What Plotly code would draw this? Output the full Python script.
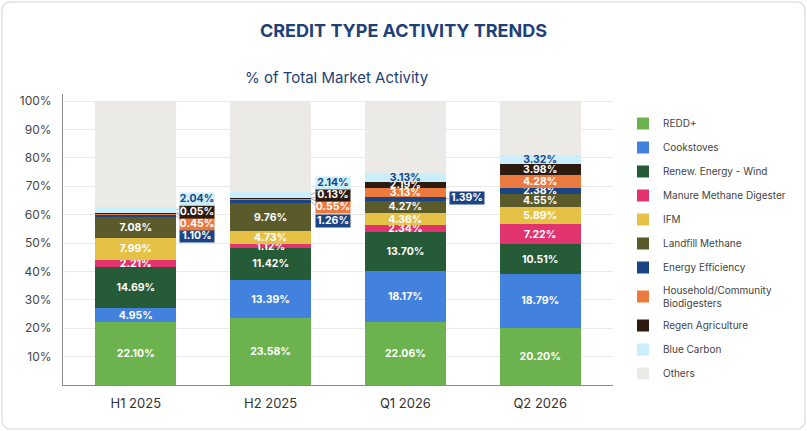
import plotly.graph_objects as go

categories = ["H1 2025", "H2 2025", "Q1 2026", "Q2 2026"]

redd = [22.10, 23.58, 22.06, 20.20]
cookstoves = [4.95, 13.39, 18.17, 18.79]
wind = [14.69, 11.42, 13.70, 10.51]
manure = [2.21, 1.12, 2.34, 7.22]
ifm = [7.99, 4.73, 4.36, 5.89]
landfill = [7.08, 9.76, 4.27, 4.55]
energy_eff = [1.10, 1.26, 1.39, 2.38]
household = [0.45, 0.55, 3.13, 4.28]
regen = [0.05, 0.13, 2.19, 3.98]
blue_carbon = [2.04, 2.14, 3.13, 3.32]
others = [37.34, 31.92, 25.26, 18.88]

y_ticks = [10, 20, 30, 40, 50, 60, 70, 80, 90, 100]
y_tick_labels = [f"{v}%" for v in y_ticks]

series = [
    ("REDD+", redd, "#6cb24f", "#ffffff"),
    ("Cookstoves", cookstoves, "#4281de", "#ffffff"),
    ("Renew. Energy - Wind", wind, "#265b37", "#ffffff"),
    ("Manure Methane Digester", manure, "#e1346f", "#ffffff"),
    ("IFM", ifm, "#e5c246", "#ffffff"),
    ("Landfill Methane", landfill, "#5b5a2b", "#ffffff"),
    ("Energy Efficiency", energy_eff, "#1b4484", "#ffffff"),
    ("Household/Community<br>Biodigesters", household, "#ec7a3e", "#ffffff"),
    ("Regen Agriculture", regen, "#2d1b10", "#ffffff"),
    ("Blue Carbon", blue_carbon, "#cbeefc", "#1b4484"),
    ("Others", others, "#ebeae6", "#ffffff"),
]

# segments labelled with an outside callout: (series index, category index) -> text box position
callouts = {
    (9, 0): (0.456, 65.5), (8, 0): (0.456, 60.9), (7, 0): (0.456, 56.7), (6, 0): (0.456, 52.5),
    (9, 1): (1.46, 71.0), (8, 1): (1.46, 66.9), (7, 1): (1.46, 62.6), (6, 1): (1.46, 57.9),
    (6, 2): (2.46, 65.8),
}

FONT = "Inter, Roboto, sans-serif"
W, H = 807, 431
L, R, T, B = 63, 613, 94, 385

def px_x(px):
    return (px - L) / (R - L)

def px_y(py):
    return (B - py) / (B - T)

fig = go.Figure()
annotations = []
cum = [0.0] * len(categories)
for si, (name, vals, color, tcolor) in enumerate(series):
    texts = []
    for ci, v in enumerate(vals):
        if name == "Others" or (si, ci) in callouts:
            texts.append("")
        else:
            texts.append(f"{v:.2f}%")
        if (si, ci) in callouts:
            ax, ay = callouts[(si, ci)]
            annotations.append(dict(
                x=ci + 0.3, y=cum[ci] + v / 2, xref="x", yref="y",
                ax=ax, ay=ay, axref="x", ayref="y",
                text=f"<b>{v:.2f}%</b>", showarrow=True, arrowhead=0,
                arrowwidth=0.8, arrowcolor="#9a9a9a", standoff=0,
                bgcolor=color, borderpad=0, width=34, height=11.5,
                font=dict(family=FONT, size=10.5, color=tcolor),
            ))
        cum[ci] += v
    fig.add_trace(go.Bar(
        name=name, x=categories, y=vals, marker=dict(color=color, line=dict(width=0)),
        text=texts, texttemplate="%{text}", textposition="inside",
        insidetextanchor="middle", textangle=0,
        textfont=dict(family=FONT, size=10.5, color=tcolor, weight="bold"),
        legendgroup=f"g{si}", hoverinfo="skip",
    ))

annotations.append(dict(
    x=px_x(337), y=px_y(77), xref="paper", yref="paper", showarrow=False,
    text="% of Total Market Activity", xanchor="center", yanchor="middle",
    font=dict(family=FONT, size=15, color="#1e4178"),
))

# rounded card border
x0, y0, x1, y1, r = 2, 2, 805, 429, 9
def P(px, py):
    return f"{px_x(px):.5f},{px_y(py):.5f}"
path = (f"M {P(x0 + r, y0)} L {P(x1 - r, y0)} Q {P(x1, y0)} {P(x1, y0 + r)} "
        f"L {P(x1, y1 - r)} Q {P(x1, y1)} {P(x1 - r, y1)} L {P(x0 + r, y1)} "
        f"Q {P(x0, y1)} {P(x0, y1 - r)} L {P(x0, y0 + r)} Q {P(x0, y0)} {P(x0 + r, y0)} Z")

fig.update_layout(
    width=W, height=H,
    margin=dict(l=L, r=W - R, t=T, b=H - B, pad=0, autoexpand=False),
    paper_bgcolor="white", plot_bgcolor="white",
    barmode="stack", bargap=0.4,
    showlegend=True,
    title=dict(text="<b>CREDIT TYPE ACTIVITY TRENDS</b>", x=0.5, xref="container",
               y=1 - 31 / H, yref="container", xanchor="center", yanchor="middle",
               font=dict(family=FONT, size=18, color="#1e4178")),
    font=dict(family=FONT, color="#444444"),
    uniformtext=dict(minsize=10.5, mode="show"),
    legend=dict(x=px_x(623), y=px_y(109), xanchor="left", yanchor="top",
                traceorder="grouped", tracegroupgap=5,
                font=dict(family=FONT, size=10, color="#444444"),
                bgcolor="rgba(0,0,0,0)"),
    xaxis=dict(range=[-0.54, 3.54], showline=True, linecolor="#8a8a8a", linewidth=1,
               showgrid=False, ticks="", ticklabelstandoff=6,
               tickfont=dict(family=FONT, size=13, color="#333333"),
               fixedrange=True),
    yaxis=dict(range=[0, 102.5], tickvals=y_ticks, ticktext=y_tick_labels,
               showline=True, linecolor="#8a8a8a", linewidth=1,
               showgrid=True, gridcolor="#e9e9e9", gridwidth=1, zeroline=False,
               ticks="", ticklabelstandoff=8,
               tickfont=dict(family=FONT, size=12, color="#444444"), fixedrange=True),
    annotations=annotations,
    shapes=[dict(type="path", path=path, xref="paper", yref="paper",
                 line=dict(color="#e2e2e2", width=1.5), fillcolor="rgba(0,0,0,0)", layer="below")],
)

fig.write_html("out.html")
